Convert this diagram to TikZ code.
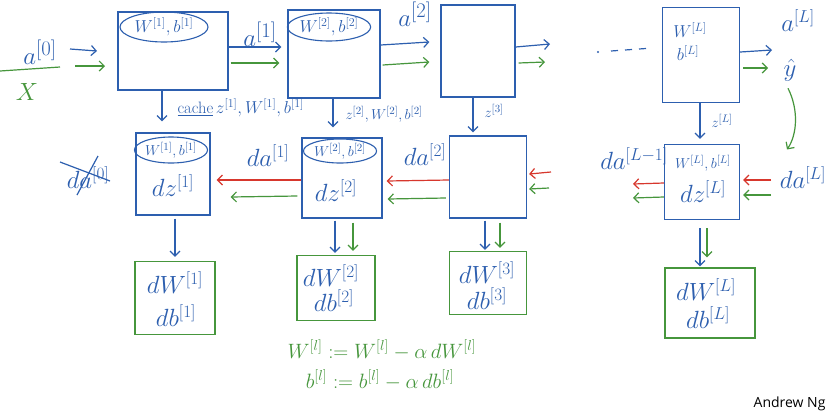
\documentclass[tikz,border=0pt]{standalone}
\usepackage{fontspec}
\newfontfamily\signfont{Open Sans}
\usetikzlibrary{arrows.meta,shapes.geometric,calc}
\definecolor{hblue}{RGB}{45,95,175}
\definecolor{hgreen}{RGB}{70,150,60}
\definecolor{hred}{RGB}{215,55,45}
\begin{document}
\begin{tikzpicture}[x=1pt,y=-1pt,
  fbox/.style={draw=hblue,line width=1.3pt,inner sep=0pt},
  gbox/.style={draw=hgreen,line width=1.2pt,inner sep=0pt},
  cachebox/.style={draw=hblue,line width=1.1pt,ellipse,inner sep=0pt},
  bl/.style={draw=hblue,line width=1.2pt},
  gr/.style={draw=hgreen,line width=1.2pt},
  rd/.style={draw=hred,line width=1.2pt},
  arr/.style={-{Straight Barb[length=5pt,width=10pt]}},
  huge/.style={font=\fontsize{28}{30}\selectfont},
  big/.style={font=\fontsize{24}{26}\selectfont},
  mid/.style={font=\fontsize{17}{19}\selectfont},
  small/.style={font=\fontsize{15}{17}\selectfont},
  cachef/.style={font=\fontsize{16.5}{18}\selectfont},
  eqf/.style={font=\fontsize{20}{22}\selectfont},
  tb/.style={text=hblue}, tg/.style={text=hgreen}]
\fill[white] (0,0) rectangle (831,416);
\useasboundingbox (0,0) rectangle (831,416);

% ---------- forward boxes ----------
\node[fbox,minimum width=110pt,minimum height=78pt] (f1) at (173,51) {};
\node[fbox,minimum width=92pt,minimum height=88pt] (f2) at (334,54) {};
\node[fbox,minimum width=74pt,minimum height=92pt] (f3) at (478,51) {};
\node[fbox,minimum width=77pt,minimum height=95pt] (fL) at (701,55) {};
\node[cachebox,minimum width=88pt,minimum height=30pt,mid,tb] (c1) at (164,27) {$W^{[1]},b^{[1]}$};
\node[cachebox,minimum width=78pt,minimum height=28pt,mid,tb] (c2) at (329,27) {$W^{[2]},b^{[2]}$};
\node[mid,tb] (wL) at (690,30) {$W^{[L]}$};
\node[mid,tb] (bLt) at (688,53) {$b^{[L]}$};

% ---------- backward boxes ----------
\node[fbox,minimum width=74pt,minimum height=82pt] (b1) at (173,174) {};
\node[fbox,minimum width=80pt,minimum height=80pt] (b2) at (342,178) {};
\node[fbox,minimum width=77pt,minimum height=82pt] (b3) at (488,177) {};
\node[fbox,minimum width=75pt,minimum height=75pt] (bL) at (702,182) {};
\node[cachebox,minimum width=72pt,minimum height=26pt,small,tb] (c3) at (171,150) {$W^{[1]},b^{[1]}$};
\node[cachebox,minimum width=70pt,minimum height=24pt,small,tb] (c4) at (340,151) {$W^{[2]},b^{[2]}$};
\node[small,tb] (cL) at (703,163) {$W^{[L]},b^{[L]}$};
\node[big,tb] (dz1) at (173,186) {$dz^{[1]}$};
\node[big,tb] (dz2) at (336,191) {$dz^{[2]}$};
\node[big,tb] (dzL) at (703,192) {$dz^{[L]}$};

% ---------- gradient boxes ----------
\node[gbox,minimum width=80pt,minimum height=73pt] (g1) at (175,298) {};
\node[gbox,minimum width=78pt,minimum height=65pt] (g2) at (336,288) {};
\node[gbox,minimum width=77pt,minimum height=63pt] (g3) at (488,283) {};
\node[gbox,minimum width=90pt,minimum height=70pt] (gL) at (710,303) {};
\node[big,tb] (dw1) at (175,283) {$dW^{[1]}$};
\node[big,tb] (db1) at (176,316) {$db^{[1]}$};
\node[big,tb] (dw2) at (331,276) {$dW^{[2]}$};
\node[big,tb] (db2) at (334,301) {$db^{[2]}$};
\node[big,tb] (dw3) at (487,273) {$dW^{[3]}$};
\node[big,tb] (db3) at (487,299) {$db^{[3]}$};
\node[big,tb] (dwL) at (706,290) {$dW^{[L]}$};
\node[big,tb] (dbL) at (708,318) {$db^{[L]}$};

% ---------- labels ----------
\node[huge,tb] (a0) at (40,52) {$a^{[0]}$};
\node[big,tg] (xin) at (27,92) {$X$};
\coordinate (ul) at (0,71);
\coordinate (ur) at (60,67);
\draw[gr] (ul) -- (ur);
\node[huge,tb] (a1) at (260,34) {$a^{[1]}$};
\node[huge,tb] (a2) at (415,14) {$a^{[2]}$};
\node[big,tb] (aL) at (798,21) {$a^{[L]}$};
\node[big,tb,inner sep=1pt] (yhat) at (790,70) {$\hat{y}$};
\node[cachef,tb,anchor=west] (k1) at (174,108) {\underline{cache}\,$z^{[1]},W^{[1]},b^{[1]}$};
\node[small,tb,anchor=west] (k2) at (342,114) {$z^{[2]},W^{[2]},b^{[2]}$};
\node[small,tb,anchor=west] (k3) at (481,111) {$z^{[3]}$};
\node[small,tb,anchor=west] (kL) at (708,121) {$z^{[L]}$};
\node[big,tb] (da0) at (88,178) {$da^{[0]}$};
\coordinate (s1) at (60,162);
\coordinate (s2) at (110,181);
\coordinate (s3) at (77,195);
\coordinate (s4) at (98,156);
\draw[bl] (s1) -- (s2);
\draw[bl] (s3) -- (s4);
\node[big,tb] (da1) at (268,156) {$da^{[1]}$};
\node[big,tb] (da2) at (425,155) {$da^{[2]}$};
\node[big,tb] (daL1) at (634,159) {$da^{[L-1]}$};
\node[big,tb] (daL) at (803,178) {$da^{[L]}$};
\node[eqf,tg] (eqw) at (382,350) {$W^{[l]} := W^{[l]} - \alpha\, dW^{[l]}$};
\node[eqf,tg] (eqb) at (380,380) {$b^{[l]} := b^{[l]} - \alpha\, db^{[l]}$};
\node[font=\signfont\fontsize{14}{16}\selectfont,anchor=east] (sig) at (829,404) {Andrew Ng};

% ---------- forward arrows ----------
\coordinate (i1) at (70,49);
\coordinate (i1e) at (97,51);
\coordinate (i2) at (75,66);
\coordinate (i2e) at (105,66);
\draw[bl,arr] (i1) -- (i1e);
\draw[gr,arr] (i2) -- (i2e);
\draw[bl,arr] ($(f1.east)+(0,-4)$) -- ($(f2.west)+(-6,-7)$);
\draw[gr,arr] ($(f1.east)+(2,12)$) -- ($(f2.west)+(-8,9)$);
\draw[bl,arr] ($(f2.east)+(0,-9)$) -- ($(f3.west)+(-11,-9)$);
\draw[gr,arr] ($(f2.east)+(2,11)$) -- ($(f3.west)+(-11,11)$);
\coordinate (o3b) at (550,44);
\coordinate (o3g) at (545,62);
\draw[bl,arr] ($(f3.east)+(0,-4)$) -- (o3b);
\draw[gr,arr] ($(f3.east)+(3,12)$) -- (o3g);
\coordinate (oLb) at (772,50);
\coordinate (oLg) at (768,68);
\draw[bl,arr] ($(fL.east)+(0,-3)$) -- (oLb);
\draw[gr,arr] ($(fL.east)+(3,13)$) -- (oLg);
% dots
\coordinate (d0) at (598,52);
\fill[hblue] (d0) circle (1.2pt);
\coordinate (d1a) at (611,51); \coordinate (d1b) at (618,50.5);
\coordinate (d2a) at (625,50); \coordinate (d2b) at (632,49.5);
\coordinate (d3a) at (639,49); \coordinate (d3b) at (646,48.5);
\draw[bl] (d1a) -- (d1b);
\draw[bl] (d2a) -- (d2b);
\draw[bl] (d3a) -- (d3b);
% yhat to daL
\draw[gr,arr] ($(yhat.south)+(-2,6)$) .. controls (799,110) and (797,135) .. ($(daL.north)+(-16,-14)$);

% ---------- cache arrows ----------
\draw[bl,arr] ($(f1.south)+(-11,0)$) -- ($(b1.north)+(-11,-11)$);
\draw[bl,arr] ($(f2.south)+(-1,0)$) -- ($(b2.north)+(-9,-10)$);
\draw[bl,arr] ($(f3.south)+(-5,0)$) -- ($(b3.north)+(-15,-3)$);
\draw[bl,arr] ($(fL.south)+(-1,0)$) -- ($(bL.north)+(-2,-5)$);

% ---------- backward arrows ----------
\draw[rd,arr] ($(b2.west)+(0,2)$) -- ($(b1.east)+(6,6)$);
\draw[gr,arr] ($(b2.west)+(-4,18)$) -- ($(b1.east)+(20,23)$);
\draw[rd,arr] ($(b3.west)+(0,3)$) -- ($(b2.east)+(4,3)$);
\draw[gr,arr] ($(b3.west)+(-3,21)$) -- ($(b2.east)+(5,21)$);
\coordinate (r3) at (551,172);
\coordinate (g3in) at (549,188);
\draw[rd,arr] (r3) -- ($(b3.east)+(2,-3)$);
\draw[gr,arr] (g3in) -- ($(b3.east)+(2,12)$);
\coordinate (rLo) at (633,184);
\coordinate (gLo) at (633,198);
\draw[rd,arr] ($(bL.west)+(0,1)$) -- (rLo);
\draw[gr,arr] ($(bL.west)+(0,15)$) -- (gLo);
\coordinate (rLi) at (771,180);
\coordinate (gLi) at (771,195);
\draw[rd,arr] (rLi) -- ($(bL.east)+(3,-2)$);
\draw[gr,arr] (gLi) -- ($(bL.east)+(3,13)$);

% ---------- to gradient boxes ----------
\draw[bl,arr] ($(b1.south)+(2,3)$) -- ($(g1.north)+(0,-4)$);
\draw[bl,arr] ($(b2.south)+(-7,2)$) -- ($(g2.north)+(-1,-2)$);
\draw[gr,arr] ($(b2.south)+(11,4)$) -- ($(g2.north)+(17,-4)$);
\draw[bl,arr] ($(b3.south)+(-3,2)$) -- ($(g3.north)+(-3,-1)$);
\draw[gr,arr] ($(b3.south)+(12,4)$) -- ($(g3.north)+(12,-3)$);
\draw[bl,arr] ($(bL.south)+(-2,8)$) -- ($(gL.north)+(-10,-1)$);
\draw[gr,arr] ($(bL.south)+(5,8)$) -- ($(gL.north)+(-3,-10)$);
\end{tikzpicture}
\end{document}
